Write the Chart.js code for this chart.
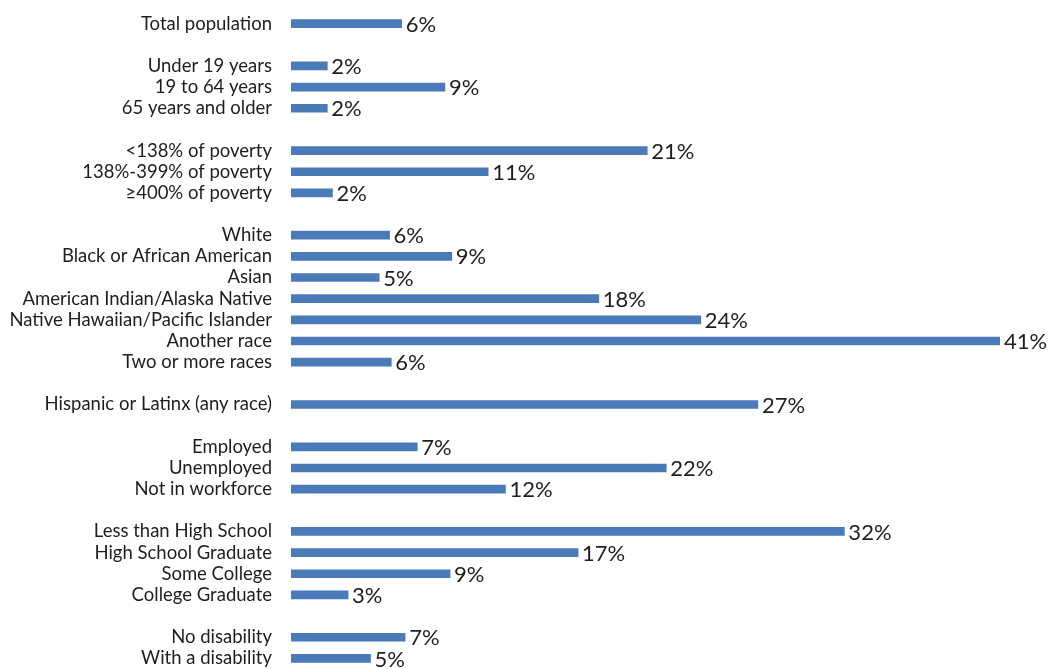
<!DOCTYPE html>
<html>
<head>
<meta charset="utf-8">
<script src="https://cdn.jsdelivr.net/npm/chart.js@4"></script>
<style>
  html, body { margin: 0; padding: 0; background: #fff; overflow: hidden; }
  #wrap { width: 1050px; height: 669px; }
</style>
</head>
<body>
<div id="wrap"><canvas id="myChart"></canvas></div>
<script>
// Row labels, top to bottom ('' = blank spacer row between groups)
var categories = [
    'Total population', '',
    'Under 19 years', '19 to 64 years', '65 years and older', '',
    '<138% of poverty', '138%-399% of poverty', '\u2265400% of poverty', '',
    'White', 'Black or African American', 'Asian', 'American Indian/Alaska Native',
    'Native Hawaiian/Pacific Islander', 'Another race', 'Two or more races', '',
    'Hispanic or Latinx (any race)', '',
    'Employed', 'Unemployed', 'Not in workforce', '',
    'Less than High School', 'High School Graduate', 'Some College', 'College Graduate', '',
    'No disability', 'With a disability'
];

// Percent values (null for spacer rows)
var values = [
    6.4, null,
    2.1, 8.9, 2.1, null,
    20.6, 11.4, 2.4, null,
    5.7, 9.3, 5.1, 17.8, 23.7, 41.0, 5.8, null,
    27.0, null,
    7.3, 21.7, 12.4, null,
    32.0, 16.6, 9.2, 3.3, null,
    6.6, 4.6
];

var barColor = '#4a7bb8';
var textColor = '#1e1e1e';

// draws the "xx%" label at the end of each bar
var valueLabels = {
    id: 'valueLabels',
    afterDatasetsDraw: function(chart) {
        var c = chart.ctx;
        var meta = chart.getDatasetMeta(0);
        c.save();
        c.font = '22px Lato';
        c.fillStyle = textColor;
        c.textAlign = 'left';
        c.textBaseline = 'middle';
        meta.data.forEach(function(bar, i) {
            var v = values[i];
            if (v === null) return;
            c.fillText(Math.round(v) + '%', bar.x + 4, bar.y + 1);
        });
        c.restore();
    }
};

var ctx = document.getElementById('myChart').getContext('2d');

var myChart = new Chart(ctx, {
    type: 'bar',
    data: {
        labels: categories,
        datasets: [{
            data: values,
            backgroundColor: barColor,
            barThickness: 8
        }]
    },
    options: {
        indexAxis: 'y',
        responsive: true,
        maintainAspectRatio: false,
        animation: false,
        layout: {
            padding: { top: 13, right: 50, bottom: -3, left: 0 }
        },
        scales: {
            x: {
                display: false,
                min: 0,
                max: 41
            },
            y: {
                grid: { display: false, drawTicks: false },
                border: { display: false },
                ticks: {
                    color: textColor,
                    font: { family: 'Lato', size: 18.5 },
                    padding: 19,
                    autoSkip: false
                },
                afterFit: function(scale) {
                    scale.width = 291;  // bars start at x=291 like the original
                    // no extra room for half label heights at the ends
                    scale.paddingTop = 0;
                    scale.paddingBottom = 0;
                }
            }
        },
        plugins: {
            legend: { display: false },
            tooltip: { enabled: false }
        }
    },
    plugins: [valueLabels]
});
</script>
</body>
</html>
